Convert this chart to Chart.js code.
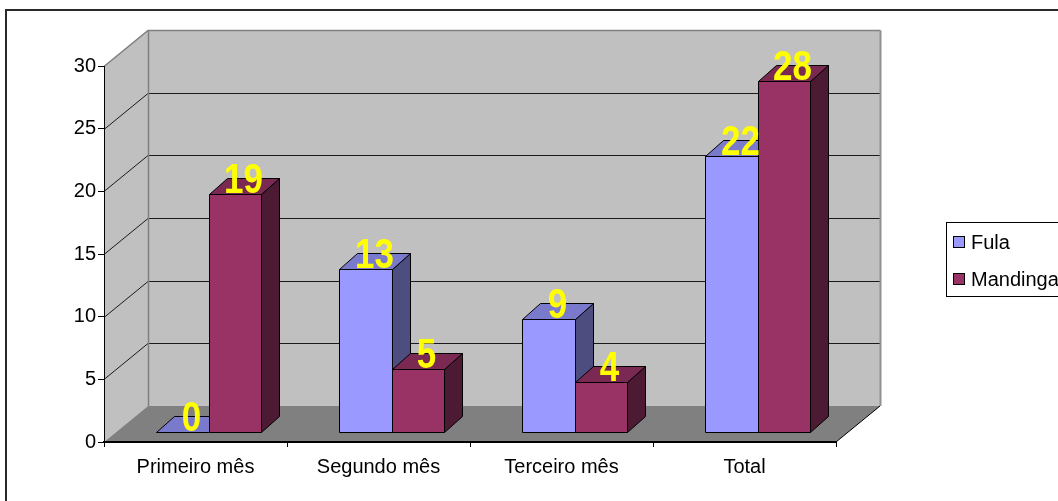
<!DOCTYPE html>
<html>
<head>
<meta charset="utf-8">
<title>Fula e Mandinga</title>
<script src="https://cdn.jsdelivr.net/npm/chart.js@4/dist/chart.umd.min.js"></script>
<style>
  html, body { margin: 0; padding: 0; background: #ffffff; }
  #wrap { width: 1058px; height: 501px; }
</style>
</head>
<body>
<div id="wrap"><canvas id="chart" width="1058" height="501"></canvas></div>
<script>
// Data
const categories = ['Primeiro mês', 'Segundo mês', 'Terceiro mês', 'Total'];
const fulaValues = [0, 13, 9, 22];
const mandingaValues = [19, 5, 4, 28];
const seriesNames = ['Fula', 'Mandinga'];
const seriesColors = ['#9999FF', '#993366'];
const yMin = 0;
const yMax = 30;
const yStep = 5;

const FONT = "'Liberation Sans', Arial, sans-serif";

// 3D projection offsets (pixels)
const WALL_DX = 44, WALL_DY = 36;   // depth of the floor / back wall
const BAR_OX = 13, BAR_OY = 10;     // where the bar fronts sit inside the depth
const BAR_DX = 18, BAR_DY = 16;     // depth of each bar

function shade(hex, f) {
  const n = parseInt(hex.slice(1), 16);
  const r = Math.round(((n >> 16) & 255) * f);
  const g = Math.round(((n >> 8) & 255) * f);
  const b = Math.round((n & 255) * f);
  return 'rgb(' + r + ',' + g + ',' + b + ')';
}

function poly(ctx, pts, fill, stroke, lw) {
  ctx.beginPath();
  ctx.moveTo(pts[0][0], pts[0][1]);
  for (let i = 1; i < pts.length; i++) ctx.lineTo(pts[i][0], pts[i][1]);
  ctx.closePath();
  if (fill) { ctx.fillStyle = fill; ctx.fill(); }
  if (stroke) { ctx.strokeStyle = stroke; ctx.lineWidth = lw || 1; ctx.stroke(); }
}

function line(ctx, pts, color, lw) {
  ctx.beginPath();
  ctx.moveTo(pts[0][0], pts[0][1]);
  for (let i = 1; i < pts.length; i++) ctx.lineTo(pts[i][0], pts[i][1]);
  ctx.strokeStyle = color;
  ctx.lineWidth = lw || 1;
  ctx.stroke();
}

// Background, frame, walls, floor and wall gridlines
const wallsPlugin = {
  id: 'walls3d',
  beforeDraw(chart) {
    const ctx = chart.ctx;
    const a = chart.chartArea;
    const ys = chart.scales.y;
    const L = a.left, R = a.right, T = a.top, B = a.bottom;
    ctx.save();
    ctx.fillStyle = '#ffffff';
    ctx.fillRect(0, 0, chart.width, chart.height);

    // outer frame
    line(ctx, [[6, chart.height], [6, 10], [chart.width, 10]], '#2a2a2a', 2);

    // side wall
    poly(ctx, [[L, T], [L + WALL_DX, T - WALL_DY], [L + WALL_DX, B - WALL_DY], [L, B]], '#C0C0C0');
    // back wall
    poly(ctx, [[L + WALL_DX, T - WALL_DY], [R + WALL_DX, T - WALL_DY], [R + WALL_DX, B - WALL_DY], [L + WALL_DX, B - WALL_DY]], '#C0C0C0');
    // floor
    poly(ctx, [[L, B], [R, B], [R + WALL_DX, B - WALL_DY], [L + WALL_DX, B - WALL_DY]], '#808080');

    ctx.lineCap = 'butt';
    // gridlines on side and back wall
    for (let v = yMin + yStep; v < yMax; v += yStep) {
      const y = Math.round(ys.getPixelForValue(v)) + 0.5;
      line(ctx, [[L, y], [L + WALL_DX, y - WALL_DY], [R + WALL_DX, y - WALL_DY]], '#1a1a1a', 1);
    }
    // wall edges
    const yt = Math.round(ys.getPixelForValue(yMax)) + 0.5;
    line(ctx, [[L, yt], [L + WALL_DX, yt - WALL_DY], [R + WALL_DX + 0.5, yt - WALL_DY]], '#808080', 1.5);
    line(ctx, [[L + WALL_DX + 0.5, yt - WALL_DY], [L + WALL_DX + 0.5, B - WALL_DY]], '#808080', 1.5);
    line(ctx, [[R + WALL_DX + 0.5, yt - WALL_DY], [R + WALL_DX + 0.5, B - WALL_DY]], '#909090', 2);
    // floor right edge
    line(ctx, [[R, B], [R + WALL_DX, B - WALL_DY]], '#000000', 1);
    ctx.restore();
  }
};

// Bars drawn as boxes from the bar elements the library lays out
const barsPlugin = {
  id: 'bars3d',
  beforeDatasetsDraw(chart) {
    const ctx = chart.ctx;
    ctx.save();
    ctx.lineJoin = 'miter';
    chart.data.datasets.forEach((ds, di) => {
      const meta = chart.getDatasetMeta(di);
      const base = ds.backgroundColor;
      meta.data.forEach((el) => {
        const p = el.getProps(['x', 'y', 'base', 'width'], true);
        const x0 = Math.round(p.x - p.width / 2 + BAR_OX) + 0.5;
        const x1 = Math.round(p.x + p.width / 2 + BAR_OX) + 0.5;
        const yt = Math.round(p.y - BAR_OY) + 0.5;
        const yb = Math.round(p.base - BAR_OY) + 0.5;
        // side
        poly(ctx, [[x1, yt], [x1 + BAR_DX, yt - BAR_DY], [x1 + BAR_DX, yb - BAR_DY], [x1, yb]], shade(base, 0.5), '#000000', 1);
        // top
        poly(ctx, [[x0, yt], [x1, yt], [x1 + BAR_DX, yt - BAR_DY], [x0 + BAR_DX, yt - BAR_DY]], shade(base, 0.8), '#000000', 1);
        // front
        if (yb - yt > 0) {
          poly(ctx, [[x0, yt], [x1, yt], [x1, yb], [x0, yb]], base, '#000000', 1);
        }
      });
    });
    ctx.restore();
    return false;
  },
  afterDraw(chart) {
    const ctx = chart.ctx;
    ctx.save();
    // value labels
    ctx.font = 'bold 35px ' + FONT;
    ctx.fillStyle = '#FFFF00';
    ctx.textAlign = 'center';
    ctx.textBaseline = 'alphabetic';
    chart.data.datasets.forEach((ds, di) => {
      const meta = chart.getDatasetMeta(di);
      meta.data.forEach((el, i) => {
        const p = el.getProps(['x', 'y', 'width'], true);
        const cx = p.x + BAR_OX + BAR_DX / 2;
        const by = p.y - BAR_OY - 1;
        ctx.save();
        ctx.translate(cx, by);
        ctx.scale(1, 1.2);
        ctx.fillText(String(ds.data[i]), 0, 0);
        ctx.restore();
      });
    });

    // legend
    const lx = 946, ly = 222, lw = 140, lh = 74;
    ctx.strokeStyle = '#000000';
    ctx.lineWidth = 1;
    ctx.strokeRect(lx + 0.5, ly + 0.5, lw, lh);
    ctx.font = '20px ' + FONT;
    ctx.textAlign = 'left';
    ctx.textBaseline = 'middle';
    const rows = [242, 279];
    chart.data.datasets.forEach((ds, di) => {
      const cy = rows[di];
      ctx.fillStyle = ds.backgroundColor;
      ctx.fillRect(953, cy - 6, 12, 12);
      ctx.strokeStyle = '#000000';
      ctx.strokeRect(953.5, cy - 5.5, 11, 11);
      ctx.fillStyle = '#000000';
      ctx.fillText(ds.label, 971, cy + 1);
    });
    ctx.restore();
  }
};

new Chart(document.getElementById('chart'), {
  type: 'bar',
  data: {
    labels: categories,
    datasets: [
      { label: seriesNames[0], data: fulaValues, backgroundColor: seriesColors[0] },
      { label: seriesNames[1], data: mandingaValues, backgroundColor: seriesColors[1] }
    ]
  },
  options: {
    responsive: false,
    animation: false,
    devicePixelRatio: 1,
    events: [],
    categoryPercentage: 0.57,
    barPercentage: 1.0,
    layout: { padding: { top: 66, right: 222, bottom: 0, left: 0 } },
    plugins: {
      legend: { display: false },
      tooltip: { enabled: false },
      title: { display: false }
    },
    scales: {
      x: {
        offset: true,
        afterFit(scale) { scale.height = 59; },
        grid: { offset: true, drawOnChartArea: false, drawTicks: true, tickLength: 5, color: '#000000', lineWidth: 1 },
        border: { display: true, color: '#000000', width: 2 },
        ticks: { color: '#000000', font: { family: FONT, size: 20 }, padding: 8, maxRotation: 0 }
      },
      y: {
        min: yMin,
        max: yMax,
        afterFit(scale) { scale.width = 104; },
        grid: { drawOnChartArea: false, drawTicks: true, tickLength: 6, color: '#000000', lineWidth: 1 },
        border: { display: true, color: '#000000', width: 1 },
        ticks: { stepSize: yStep, color: '#000000', font: { family: FONT, size: 20 }, padding: 2 }
      }
    }
  },
  plugins: [wallsPlugin, barsPlugin]
});
</script>
</body>
</html>
